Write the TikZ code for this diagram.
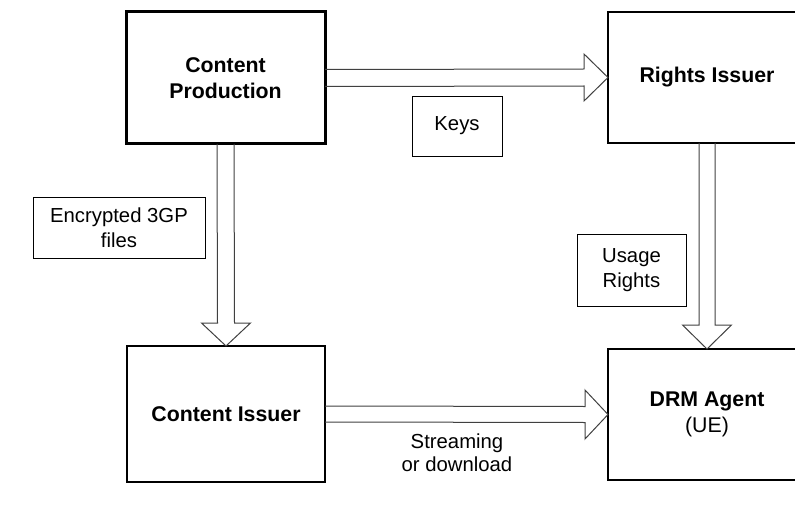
\documentclass[tikz,border=0pt]{standalone}
\usepackage{fontspec}
\setmainfont{Liberation Sans}
\usetikzlibrary{calc}
\begin{document}
\begin{tikzpicture}[x=1pt,y=-1pt,
  box/.style={draw=black, line width=1.2pt, fill=white, inner sep=0pt, outer sep=0pt,
    align=center, font=\fontsize{21.3}{26.5}\selectfont\bfseries},
  thickbox/.style={box, line width=3pt},
  lbl/.style={draw=black, line width=0.9pt, fill=white, inner sep=0pt, outer sep=0pt,
    align=center, font=\fontsize{20.3}{25}\selectfont},
  plain/.style={inner sep=0pt, align=center, font=\fontsize{20.3}{23.5}\selectfont},
  fat/.style={draw=black!75, line width=1pt, line join=miter}
]
\useasboundingbox (0,0) rectangle (795,516);
\clip (0,0) rectangle (795,516);

% main boxes
\node[thickbox, minimum width=199pt, minimum height=132pt] (cp) at (225.5,78) {Content\\Production};
\node[box, minimum width=198pt, minimum height=131pt] (ri) at (707,77.5) {Rights Issuer};
\node[box, minimum width=198pt, minimum height=136pt] (ci) at (226,414) {Content Issuer};
\node[box, minimum width=198pt, minimum height=131pt] (da) at (707,414.5)
  {DRM Agent\\{\mdseries (UE)}};

% fat arrows
\draw[fat] ($(cp.east)+(0,-8.5)$) -- ($(ri.west)+(-24,-8.5)$) -- ($(ri.west)+(-24,-23.5)$)
  -- (ri.west) -- ($(ri.west)+(-24,23.5)$) -- ($(ri.west)+(-24,8.5)$) -- ($(cp.east)+(0,8.5)$);
\draw[fat] ($(ci.east)+(0,-8)$) -- ($(da.west)+(-23,-8)$) -- ($(da.west)+(-23,-24.5)$)
  -- (da.west) -- ($(da.west)+(-23,24.5)$) -- ($(da.west)+(-23,8)$) -- ($(ci.east)+(0,8)$);
\draw[fat] ($(cp.south)+(-8.5,0)$) -- ($(ci.north)+(-8.5,-23)$) -- ($(ci.north)+(-24.5,-23)$)
  -- (ci.north) -- ($(ci.north)+(24.5,-23)$) -- ($(ci.north)+(8.5,-23)$) -- ($(cp.south)+(8.5,0)$);
\draw[fat] ($(ri.south)+(-8,0)$) -- ($(da.north)+(-8,-24)$) -- ($(da.north)+(-24.5,-24)$)
  -- (da.north) -- ($(da.north)+(24.5,-24)$) -- ($(da.north)+(8,-24)$) -- ($(ri.south)+(8,0)$);

% labels
\node[lbl, minimum width=90pt, minimum height=60pt] (keys) at (457,126) {Keys};
\node[lbl, minimum width=172pt, minimum height=61pt] (enc) at (119,227.5) {Encrypted 3GP\\files};
\node[lbl, minimum width=109pt, minimum height=72pt] (usage) at (631.5,270) {Usage\\Rights};
\node[plain] (stream) at (457,452.5) {Streaming\\or download};
\end{tikzpicture}
\end{document}
